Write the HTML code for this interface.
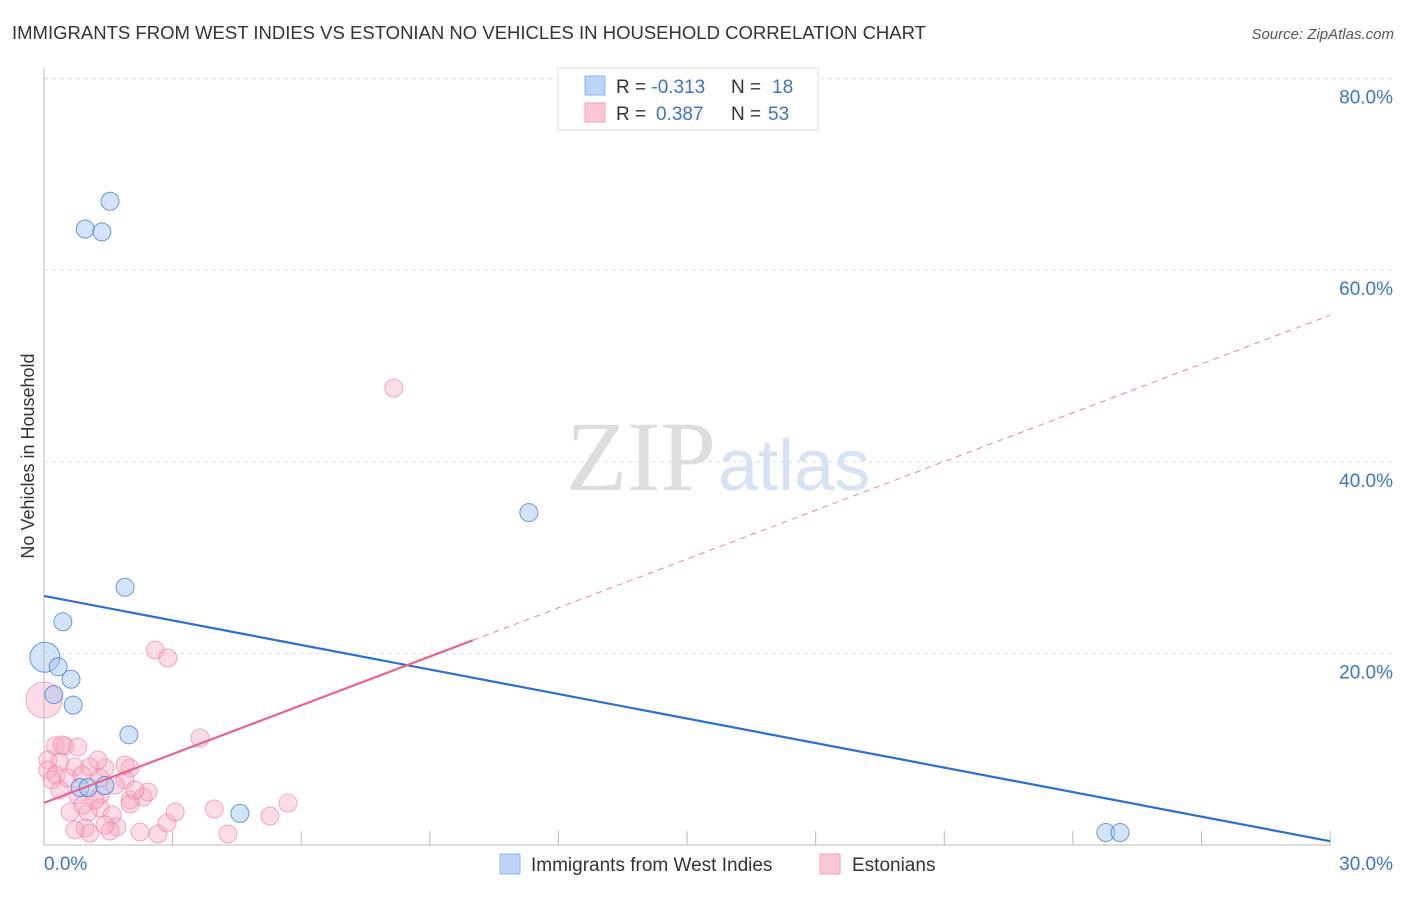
<!DOCTYPE html>
<html><head><meta charset="utf-8"><style>
body{margin:0;background:#fff;font-family:"Liberation Sans",sans-serif;}
</style></head><body>
<svg id="c" width="1406" height="892" xmlns="http://www.w3.org/2000/svg">
<text x="12" y="39" font-size="18" fill="#333" textLength="914" lengthAdjust="spacingAndGlyphs">IMMIGRANTS FROM WEST INDIES VS ESTONIAN NO VEHICLES IN HOUSEHOLD CORRELATION CHART</text>
<text x="1394" y="39" font-size="15" fill="#555" font-style="italic" text-anchor="end">Source: ZipAtlas.com</text>
<text x="34" y="456" font-size="18" fill="#333" text-anchor="middle" transform="rotate(-90 34 456)">No Vehicles in Household</text>
<text x="716" y="490" font-size="100" fill="#ddd" font-family="Liberation Serif,serif" text-anchor="end">ZIP</text>
<text x="718" y="490" font-size="72" fill="#d6e3f5">atlas</text>
<g id="grid"></g><g id="pts"></g><g id="lines"></g>
<g>
<rect x="558" y="68" width="260" height="62" fill="#fff" stroke="#ddd"/>
<rect x="585" y="76" width="20" height="19" fill="#bcd4f5" stroke="#8fb4e8"/>
<rect x="585" y="103" width="20" height="19" fill="#fcc8d6" stroke="#f2a0b8"/>
<text x="616" y="93" font-size="19" fill="#333">R = <tspan fill="#3b73d1">-0.313</tspan><tspan x="731">N = </tspan><tspan fill="#3b73d1" x="772">18</tspan></text>
<text x="616" y="120" font-size="19" fill="#333">R = <tspan fill="#3b73d1" x="656">0.387</tspan><tspan x="731">N = </tspan><tspan fill="#3b73d1" x="768">53</tspan></text>
</g>
<g>
<rect x="500" y="854" width="20" height="20" fill="#bcd4f5" stroke="#8fb4e8"/>
<text x="531" y="871" font-size="19" fill="#333">Immigrants from West Indies</text>
<rect x="820" y="854" width="20" height="20" fill="#fcc8d6" stroke="#f2a0b8"/>
<text x="852" y="871" font-size="19" fill="#333">Estonians</text>
</g>
</svg>
<script>
const yTicks=[20,40,60,80];
const yTickLabels=["20.0%","40.0%","60.0%","80.0%"];
const xTickVals=[0,3,6,9,12,15,18,21,24,27,30];
const blueX=[1.54,0.96,1.35,11.31,1.89,0.44,0.02,0.33,0.63,0.23,0.68,1.98,0.84,1.03,1.42,4.57,24.77,25.1];
const blueY=[67.2,64.3,64.0,34.7,26.9,23.3,19.6,18.6,17.3,15.7,14.6,11.5,6.0,6.0,6.2,3.3,1.3,1.3];
const blueR=[9,9,9,9,9,9,15,9,9,9,9,9,9,9,9,9,9,9];
const pinkPx=[[394,388],[155,650],[168,658],[44,700],[200,738],[55,746],[65,746],[78,747],[48,760],[60,762],[75,767],[90,767],[105,768],[130,768],[48,770],[56,775],[68,778],[82,775],[100,778],[125,780],[115,785],[78,795],[100,795],[130,800],[143,797],[148,792],[100,808],[112,815],[88,812],[130,804],[70,812],[117,827],[85,828],[90,833],[158,834],[167,823],[175,812],[214,809],[270,816],[288,803],[228,834],[110,831],[140,832],[62,745],[98,760],[125,765],[52,780],[95,800],[83,805],[75,830],[105,825],[60,790],[135,790]];
const pinkX=pinkPx.map(p=>+((p[0]-44)/42.87).toFixed(2));
const pinkY=pinkPx.map(p=>+((845-p[1])/9.58).toFixed(2));
const blueLine=[26.0,0.4];
const pinkLine=[4.4,55.3];
const pinkSolidEnd=10.0;
const X=v=>44+v*42.87, Y=v=>845-v*9.58;
const NS="http://www.w3.org/2000/svg";
function mk(t,a,p){const e=document.createElementNS(NS,t);for(const k in a)e.setAttribute(k,a[k]);p.appendChild(e);return e;}
const g=document.getElementById('grid');
yTicks.forEach((v,i)=>{
 const l=mk('line',{x1:44,x2:1394,y1:Y(v),y2:Y(v),stroke:'#ddd','stroke-dasharray':'4,4'},g);
 
 
 const t=mk('text',{x:1393,y:Y(v)+25,'font-size':19,fill:'#3b73d1','text-anchor':'end'},g);t.textContent=yTickLabels[i];
 
 
});
const ax=mk('line',{x1:44,x2:44,y1:68,y2:845,stroke:'#bbb'},g);


const bx=mk('line',{x1:44,x2:1330,y1:845,y2:845,stroke:'#bbb'},g);


xTickVals.forEach(v=>{const l=mk('line',{x1:X(v),x2:X(v),y1:831,y2:845,stroke:'#bbb'},g);
 
 });
const t0=mk('text',{x:44,y:870,'font-size':19,fill:'#3b73d1'},g);t0.textContent="0.0%";


const t1=mk('text',{x:1393,y:870,'font-size':19,fill:'#3b73d1','text-anchor':'end'},g);t1.textContent="30.0%";


const P=document.getElementById('pts');
pinkX.forEach((x,i)=>{const c=mk('circle',{cx:X(x),cy:Y(pinkY[i]),r:i==3?18:9,fill:'rgba(248,170,195,0.4)',stroke:'rgba(235,120,155,0.6)'},P);
 
 });
blueX.forEach((x,i)=>{const c=mk('circle',{cx:X(x),cy:Y(blueY[i]),r:blueR[i],fill:'rgba(160,195,240,0.45)',stroke:'rgba(60,120,215,0.75)'},P);
 
 });
const L=document.getElementById('lines');
const bl=mk('line',{x1:X(0),y1:Y(blueLine[0]),x2:X(30),y2:Y(blueLine[1]),stroke:'#2a6fd6','stroke-width':2.2},L);


const pv=x=>pinkLine[0]+(pinkLine[1]-pinkLine[0])*x/30;
const pl=mk('line',{x1:X(0),y1:Y(pv(0)),x2:X(pinkSolidEnd),y2:Y(pv(pinkSolidEnd)),stroke:'#e8648e','stroke-width':2.2},L);


const pd=mk('line',{x1:X(pinkSolidEnd),y1:Y(pv(pinkSolidEnd)),x2:X(30),y2:Y(pv(30)),stroke:'#e8869f','stroke-width':1,'stroke-dasharray':'6,5'},L);


</script>
</body></html>
